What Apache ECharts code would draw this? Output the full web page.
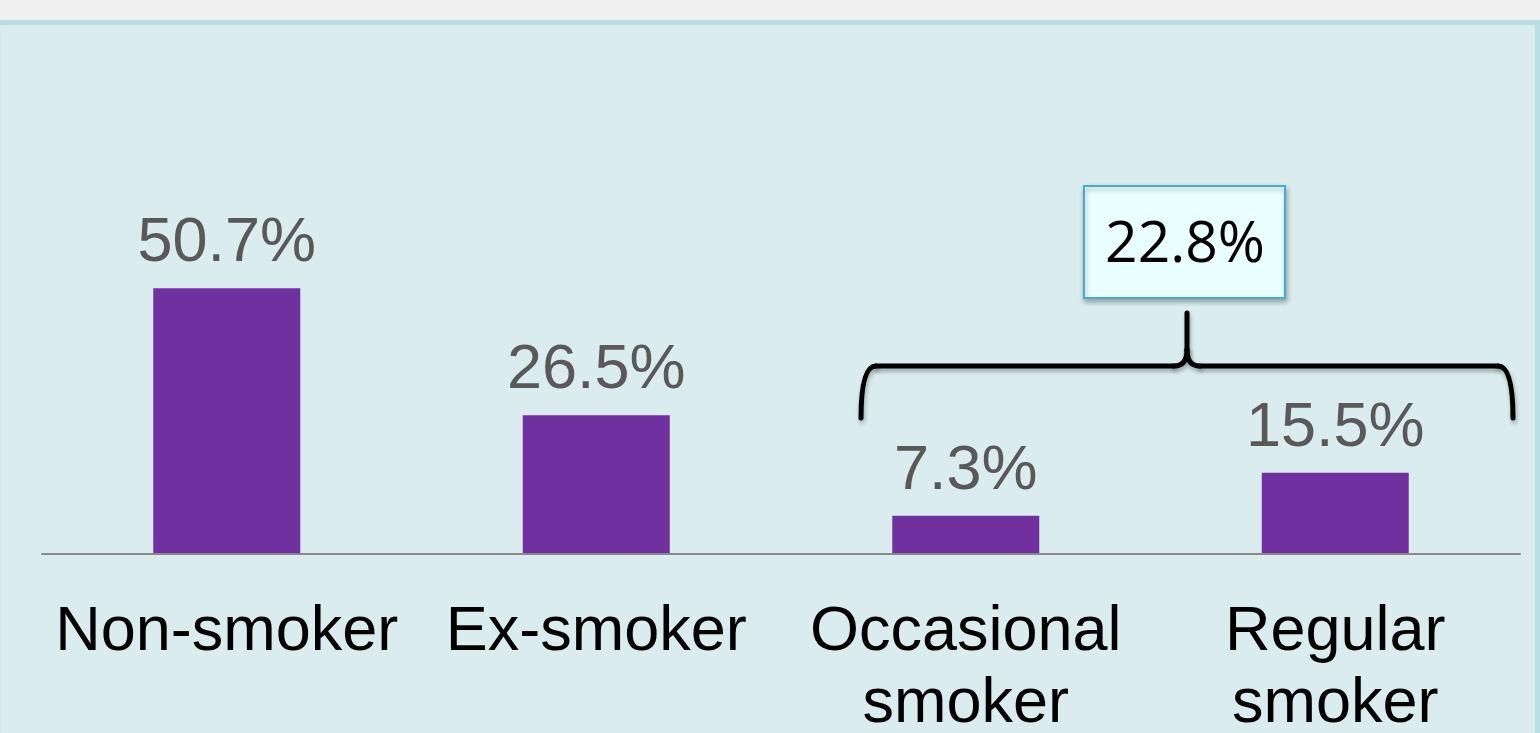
<!DOCTYPE html>
<html>
<head>
<meta charset="utf-8">
<script src="https://cdn.jsdelivr.net/npm/echarts@6/dist/echarts.min.js"></script>
<style>
  html, body { margin: 0; padding: 0; background: #f0f0f0; }
  #chart { width: 1540px; height: 733px; }
</style>
</head>
<body>
<div id="chart"></div>
<script>
const categories = ['Non-smoker', 'Ex-smoker', 'Occasional\nsmoker', 'Regular\nsmoker'];
const values = [50.7, 26.5, 7.3, 15.5];
const groupTotalLabel = '22.8%';

const braceStyle = {
  stroke: '#000000',
  lineWidth: 5,
  lineCap: 'round',
  fill: null,
  shadowBlur: 4,
  shadowOffsetX: 1,
  shadowOffsetY: 3,
  shadowColor: 'rgba(0,0,0,0.3)'
};
function seg(x1, y1, x2, y2) {
  return { type: 'line', z: 20, silent: true, shape: { x1, y1, x2, y2 }, style: braceStyle };
}
function curve(x1, y1, cx, cy, x2, y2) {
  return { type: 'bezierCurve', z: 20, silent: true, shape: { x1, y1, cpx1: cx, cpy1: cy, x2, y2 }, style: braceStyle };
}

const chart = echarts.init(document.getElementById('chart'));
chart.setOption({
  animation: false,
  backgroundColor: '#f0f0f0',
  grid: { left: 42, right: 20, top: 30, bottom: 179, containLabel: false, outerBoundsMode: 'none' },
  xAxis: {
    type: 'category',
    data: categories,
    axisLine: { lineStyle: { color: '#898989', width: 2 } },
    axisTick: { show: false },
    axisLabel: {
      color: '#000000',
      fontFamily: 'Liberation Sans, Arial, sans-serif',
      fontSize: 63,
      lineHeight: 72,
      margin: 43,
      interval: 0
    },
    z: 5
  },
  yAxis: {
    type: 'value',
    min: 0,
    max: 100,
    show: false,
    splitLine: { show: false }
  },
  graphic: [
    { type: 'rect', z: -10, silent: true, shape: { x: 0, y: 20, width: 1540, height: 713 }, style: { fill: '#b8dfe1' } },
    { type: 'rect', z: -9, silent: true, shape: { x: 1, y: 25, width: 1534, height: 708 }, style: { fill: '#daecee' } },
    { type: 'rect', z: -9, silent: true, shape: { x: 0, y: 25, width: 1, height: 708 }, style: { fill: '#d3e8e9' } },
    curve(861, 418, 861, 366, 876, 366),
    seg(876, 366, 1174, 366),
    curve(1174, 366, 1187, 366, 1187, 350),
    seg(1187, 350, 1187, 313),
    curve(1187, 350, 1187, 366, 1200, 366),
    seg(1200, 366, 1498, 366),
    curve(1498, 366, 1513, 366, 1513, 418),
    {
      type: 'rect',
      z: 20,
      silent: true,
      shape: { x: 1084, y: 186, width: 201, height: 112 },
      style: {
        fill: '#eaffff',
        stroke: '#4aaccb',
        lineWidth: 2,
        shadowBlur: 5,
        shadowOffsetX: 1,
        shadowOffsetY: 3,
        shadowColor: 'rgba(0,0,0,0.3)'
      }
    },
    {
      type: 'text',
      z: 21,
      silent: true,
      x: 1185,
      y: 246,
      style: {
        text: groupTotalLabel,
        fill: '#000000',
        fontFamily: 'Open Sans, Noto Sans, sans-serif',
        fontSize: 57,
        align: 'center',
        verticalAlign: 'middle'
      }
    }
  ],
  series: [{
    type: 'bar',
    data: values,
    barWidth: 147,
    itemStyle: { color: '#7030a0' },
    label: {
      show: true,
      position: 'top',
      distance: 13,
      formatter: p => p.value.toFixed(1) + '%',
      color: '#595959',
      fontFamily: 'Liberation Sans, Arial, sans-serif',
      fontSize: 63
    }
  }]
});
</script>
</body>
</html>
